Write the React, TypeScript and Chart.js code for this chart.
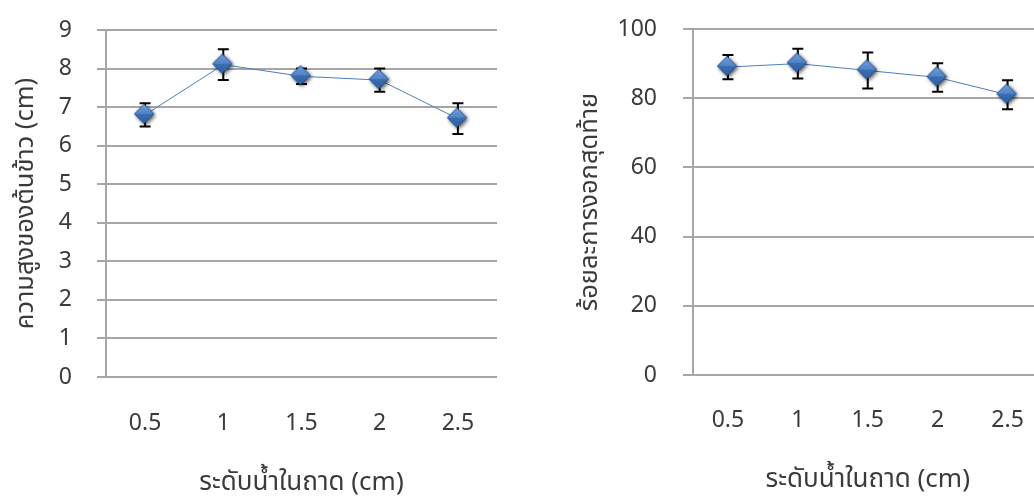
import React, { useEffect, useRef } from "react";
import { Chart, registerables } from "chart.js";

Chart.register(...registerables);

const categories = ["0.5", "1", "1.5", "2", "2.5"];
const heightValues = [6.8, 8.1, 7.8, 7.7, 6.7];
const heightErrors = [0.3, 0.4, 0.2, 0.3, 0.4];
const germValues = [89, 90, 88, 86, 81];
const germErrors = [3.5, 4.3, 5.2, 4.1, 4.2];
const xTitle = "ระดับน้ำในถาด (cm)";
const leftYTitle = "ความสูงของต้นข้าว (cm)";
const rightYTitle = "ร้อยละการงอกสุดท้าย";

const FONT = "'Noto Sans', 'Noto Sans Thai', 'Leelawadee UI', sans-serif";
const TEXT = "#3a3a3a";
const GRID = "#a6a6a6";

function makeDiamond(): HTMLCanvasElement {
  const c = document.createElement("canvas");
  const s = 28;
  c.width = s;
  c.height = s;
  const ctx = c.getContext("2d")!;
  const cx = s / 2 - 1;
  const cy = s / 2 - 1;
  const r = 9.5;
  ctx.save();
  ctx.shadowColor = "rgba(0,0,0,0.45)";
  ctx.shadowBlur = 4;
  ctx.shadowOffsetX = 1.5;
  ctx.shadowOffsetY = 1.5;
  ctx.beginPath();
  ctx.moveTo(cx, cy - r);
  ctx.lineTo(cx + r, cy);
  ctx.lineTo(cx, cy + r);
  ctx.lineTo(cx - r, cy);
  ctx.closePath();
  ctx.fillStyle = "#3f72b3";
  ctx.fill();
  ctx.restore();
  const g = ctx.createLinearGradient(0, cy - r, 0, cy + r);
  g.addColorStop(0, "#6f9fdc");
  g.addColorStop(0.5, "#4f84c8");
  g.addColorStop(0.5, "#3b6fb2");
  g.addColorStop(1, "#2f5f9f");
  ctx.beginPath();
  ctx.moveTo(cx, cy - r);
  ctx.lineTo(cx + r, cy);
  ctx.lineTo(cx, cy + r);
  ctx.lineTo(cx - r, cy);
  ctx.closePath();
  ctx.fillStyle = g;
  ctx.fill();
  ctx.strokeStyle = "rgba(40,80,140,0.6)";
  ctx.lineWidth = 0.8;
  ctx.stroke();
  return c;
}

const errorBarPlugin = {
  id: "errorBars",
  afterDatasetsDraw(chart: any) {
    const errs: number[] = chart.options.plugins.errorBars?.errors || [];
    const meta = chart.getDatasetMeta(0);
    const y = chart.scales.y;
    const data = chart.data.datasets[0].data as number[];
    const ctx = chart.ctx;
    ctx.save();
    ctx.strokeStyle = "#000";
    ctx.lineWidth = 2;
    meta.data.forEach((pt: any, i: number) => {
      const x = pt.x;
      const top = y.getPixelForValue(data[i] + errs[i]);
      const bot = y.getPixelForValue(data[i] - errs[i]);
      ctx.beginPath();
      ctx.moveTo(x, top);
      ctx.lineTo(x, bot);
      ctx.moveTo(x - 5.5, top);
      ctx.lineTo(x + 5.5, top);
      ctx.moveTo(x - 5.5, bot);
      ctx.lineTo(x + 5.5, bot);
      ctx.stroke();
    });
    ctx.restore();
  },
};

const pointsOnTop = {
  id: "pointsOnTop",
  afterDraw(chart: any) {
    const meta = chart.getDatasetMeta(0);
    meta.data.forEach((pt: any) => pt.draw(chart.ctx, chart.chartArea));
  },
};

type Cfg = {
  values: number[];
  errors: number[];
  yMax: number;
  yStep: number;
  yTitle: string;
  yWidth: number;
  xHeight: number;
  padTop: number;
  padRight: number;
  tickLen: number;
  tickPad: number;
  yTitlePad: number;
  xTickPad: number;
  xTitlePad: number;
};

function MiniChart({ cfg, style }: { cfg: Cfg; style: React.CSSProperties }) {
  const ref = useRef<HTMLCanvasElement>(null);
  useEffect(() => {
    const diamond = makeDiamond();
    const chart = new Chart(ref.current!, {
      type: "line",
      data: {
        labels: categories,
        datasets: [
          {
            data: cfg.values,
            borderColor: "#4a7ebb",
            borderWidth: 1,
            pointStyle: diamond as any,
            pointRadius: 10,
            fill: false,
            tension: 0,
          },
        ],
      },
      plugins: [errorBarPlugin, pointsOnTop],
      options: {
        animation: false,
        responsive: false,
        events: [],
        layout: { padding: { top: cfg.padTop, right: cfg.padRight, left: 0, bottom: 0 } },
        plugins: {
          legend: { display: false },
          tooltip: { enabled: false },
          errorBars: { errors: cfg.errors },
        } as any,
        scales: {
          x: {
            type: "category",
            offset: true,
            grid: { display: false, drawTicks: false },
            border: { display: false },
            ticks: {
              color: TEXT,
              font: { family: FONT, size: 23 },
              padding: cfg.xTickPad,
              maxRotation: 0,
            },
            title: {
              display: true,
              text: xTitle,
              color: TEXT,
              font: { family: FONT, size: 26, lineHeight: 1 },
              padding: { top: 0, bottom: cfg.xTitlePad },
            },
            afterFit: (s: any) => {
              s.height = cfg.xHeight;
            },
          },
          y: {
            min: 0,
            max: cfg.yMax,
            ticks: {
              stepSize: cfg.yStep,
              color: TEXT,
              font: { family: FONT, size: 23, lineHeight: 0.2 },
              padding: cfg.tickPad,
            },
            grid: {
              color: GRID,
              lineWidth: 2,
              drawTicks: true,
              tickLength: cfg.tickLen,
            },
            border: { display: true, color: GRID, width: 2 },
            title: {
              display: true,
              text: cfg.yTitle,
              color: TEXT,
              font: { family: FONT, size: 25.5, lineHeight: 1 },
              padding: { top: cfg.yTitlePad, bottom: 0 },
            },
            afterFit: (s: any) => {
              s.width = cfg.yWidth;
            },
          },
        },
      },
    });
    return () => chart.destroy();
  }, []);
  return <canvas ref={ref} width={style.width as number} height={style.height as number} style={style} />;
}

const leftCfg: Cfg = {
  values: heightValues,
  errors: heightErrors,
  yMax: 9,
  yStep: 1,
  yTitle: leftYTitle,
  yWidth: 106,
  xHeight: 119,
  padTop: 30,
  padRight: 20,
  tickLen: 9,
  tickPad: 25,
  yTitlePad: 13,
  xTickPad: 33,
  xTitlePad: 0,
};

const rightCfg: Cfg = {
  values: germValues,
  errors: germErrors,
  yMax: 100,
  yStep: 20,
  yTitle: rightYTitle,
  yWidth: 176,
  xHeight: 121,
  padTop: 29,
  padRight: 12,
  tickLen: 10,
  tickPad: 26,
  yTitlePad: 60,
  xTickPad: 32,
  xTitlePad: 3,
};

export default function App() {
  return (
    <div
      style={{
        position: "fixed",
        left: 0,
        top: 0,
        width: 1034,
        height: 496,
        overflow: "hidden",
        background: "#fff",
      }}
    >
      <MiniChart cfg={leftCfg} style={{ position: "absolute", left: 0, top: 0, width: 517, height: 496 }} />
      <MiniChart cfg={rightCfg} style={{ position: "absolute", left: 517, top: 0, width: 540, height: 496 }} />
    </div>
  );
}
